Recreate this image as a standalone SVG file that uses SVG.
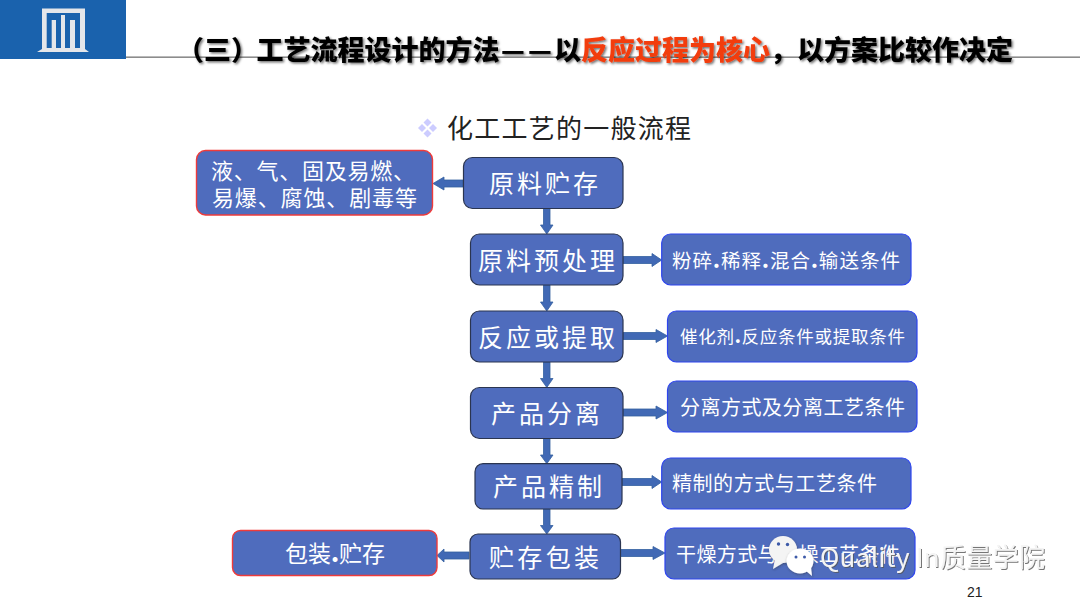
<svg xmlns="http://www.w3.org/2000/svg" width="1080" height="608" viewBox="0 0 1080 608">
<defs>
<filter id="ts" x="-5%" y="-20%" width="110%" height="150%"><feDropShadow dx="1.500" dy="1.500" stdDeviation="0.800" flood-color="#000" flood-opacity="0.550"/></filter>
<filter id="wm" x="-5%" y="-20%" width="110%" height="150%"><feDropShadow dx="1" dy="1" stdDeviation="0.500" flood-color="#555" flood-opacity="0.800"/></filter>
<filter id="bs" x="-20%" y="-20%" width="140%" height="140%"><feDropShadow dx="0.500" dy="1" stdDeviation="0.800" flood-color="#333" flood-opacity="0.500"/></filter>
</defs>
<style>
text{font-family:"Noto Sans CJK SC","Liberation Sans",sans-serif}
.box{fill:#4f6cbd}
.main{stroke:#2b3550;stroke-width:1.200}
.red{stroke:#ee3b3b;stroke-width:1.400}
.blue{stroke:#2e45ee;stroke-width:1.200}
.lab{fill:#fff;font-weight:400}
.dot{font-weight:900}
.arr{fill:#4169b5;stroke:#33609f;stroke-width:.8}
.title{font-size:27px;font-weight:900;fill:#000;filter:url(#ts)}
</style>
<rect width="1080" height="608" fill="#fff"/>
<g id="header">
<rect x="126" y="56.400" width="954" height="1.600" fill="#8c8c8c"/>
<rect width="126" height="59" fill="#1a62ad"/>
<path fill="#e4e6ea" d="M42 8.500H85V49L89 52H37L42 49ZM46.700 13V48H51.700V20H56V48H61V15H65V48H70V20H75V48H80V13Z"/>
</g>
<text id="title" class="title" y="60"><tspan x="177">（三）</tspan><tspan x="256.500">工艺流程设计的方法</tspan><tspan x="501" font-size="26">—</tspan><tspan x="528" font-size="26">—</tspan><tspan x="554">以</tspan><tspan x="581" fill="#f23c0f">反应过程为核心</tspan><tspan x="770">，</tspan><tspan x="797">以方案比较作决定</tspan></text>
<g id="subtitle">
<path fill="#ccccff" d="M427.500 118.500l4 4-4 4-4-4zM427.500 129.500l4 4-4 4-4-4zM422 124l4 4-4 4-4-4zM433 124l4 4-4 4-4-4z"/>
<text x="447" y="138" font-size="26" fill="#222" textLength="244" lengthAdjust="spacing">化工工艺的一般流程</text>
</g>
<g id="connectors">
<polygon class="arr" points="463,180 444,180 444,177 433,183.500 444,190 444,187 463,187"/>
<polygon class="arr" points="543.500,208.500 550,208.500 550,225 553,225 546.800,234 540.500,225 543.500,225"/>
<polygon class="arr" points="543.500,285 550,285 550,302 553,302 546.800,311 540.500,302 543.500,302"/>
<polygon class="arr" points="543.500,362 550,362 550,378.500 553,378.500 546.800,387.500 540.500,378.500 543.500,378.500"/>
<polygon class="arr" points="543.500,438.500 550,438.500 550,455 553,455 546.800,463.700 540.500,455 543.500,455"/>
<polygon class="arr" points="543.500,509 550,509 550,525.500 553,525.500 546.800,534 540.500,525.500 543.500,525.500"/>
<polygon class="arr" points="623,256.500 652,256.500 652,253.500 661.700,260 652,266.500 652,263.500 623,263.500"/>
<polygon class="arr" points="623,332.500 656,332.500 656,329.500 667.500,336 656,342.500 656,339.500 623,339.500"/>
<polygon class="arr" points="623,409 656,409 656,406 667.500,412.500 656,419 656,416 623,416"/>
<polygon class="arr" points="622,478.500 652,478.500 652,475.500 661.700,482 652,488.500 652,485.500 622,485.500"/>
<polygon class="arr" points="620.500,549.500 653,549.500 653,546.500 665,553 653,559.500 653,556.500 620.500,556.500"/>
<polygon class="arr" points="469,552 444,552 444,549 437,555.500 444,562 444,559 469,559"/>
</g>
<g id="n1"><rect class="box main" x="463.500" y="157.500" width="159.500" height="51" rx="9"/><text class="lab" x="489" y="193" font-size="25" textLength="109" lengthAdjust="spacing">原料贮存</text></g>
<g id="n2"><rect class="box main" x="470.500" y="234" width="152.500" height="51" rx="9"/><text class="lab" x="478" y="270" font-size="25" textLength="137" lengthAdjust="spacing">原料预处理</text></g>
<g id="n3"><rect class="box main" x="470.500" y="311" width="152.500" height="51" rx="9"/><text class="lab" x="478" y="347" font-size="25" textLength="137" lengthAdjust="spacing">反应或提取</text></g>
<g id="n4"><rect class="box main" x="470.500" y="387.500" width="152.500" height="51" rx="9"/><text class="lab" x="491" y="423" font-size="25" textLength="109" lengthAdjust="spacing">产品分离</text></g>
<g id="n5"><rect class="box main" x="475" y="463.700" width="147" height="45.300" rx="8"/><text class="lab" x="493" y="496" font-size="25" textLength="109" lengthAdjust="spacing">产品精制</text></g>
<g id="n6"><rect class="box main" x="470" y="534" width="150.500" height="45" rx="8"/><text class="lab" x="489" y="567" font-size="25" textLength="110" lengthAdjust="spacing">贮存包装</text></g>
<g id="l1"><rect class="box red" x="196.500" y="150.500" width="236" height="64.500" rx="9"/>
<text class="lab" x="211" y="179" font-size="22" textLength="204" lengthAdjust="spacing">液、气、固及易燃、</text>
<text class="lab" x="212" y="206" font-size="22" textLength="205" lengthAdjust="spacing">易爆、腐蚀、剧毒等</text></g>
<g id="l2"><rect class="box red" x="232.500" y="530.500" width="204.500" height="45" rx="8"/><text class="lab" x="285" y="562" font-size="23" textLength="100" lengthAdjust="spacing">包装<tspan class="dot">.</tspan>贮存</text></g>
<g id="r1"><rect class="box blue" x="661.700" y="234" width="249.300" height="51" rx="9"/><text class="lab" x="672" y="268" font-size="19.500" textLength="228" lengthAdjust="spacing">粉碎<tspan class="dot">.</tspan>稀释<tspan class="dot">.</tspan>混合<tspan class="dot">.</tspan>输送条件</text></g>
<g id="r2"><rect class="box blue" x="667.500" y="311" width="249.500" height="51" rx="9"/><text class="lab" x="680" y="343" font-size="17.500" textLength="225" lengthAdjust="spacing">催化剂<tspan class="dot">.</tspan>反应条件或提取条件</text></g>
<g id="r3"><rect class="box blue" x="667.500" y="381" width="249.500" height="51" rx="9"/><text class="lab" x="680" y="415" font-size="20" textLength="225" lengthAdjust="spacing">分离方式及分离工艺条件</text></g>
<g id="r4"><rect class="box blue" x="661.700" y="458" width="249.300" height="51" rx="9"/><text class="lab" x="672" y="491" font-size="20" textLength="205" lengthAdjust="spacing">精制的方式与工艺条件</text></g>
<g id="r5"><rect class="box blue" x="665" y="528" width="250" height="51" rx="9"/><text class="lab" x="676" y="562" font-size="20" textLength="224" lengthAdjust="spacing">干燥方式与干燥工艺条件</text></g>
<g id="watermark">
<g filter="url(#bs)"><ellipse cx="783" cy="549.500" rx="14" ry="13.500" fill="#f4f4f4"/><path d="M775 559l-2 10 10-6z" fill="#f4f4f4"/></g>
<g filter="url(#bs)"><ellipse cx="800" cy="561" rx="13.500" ry="12.500" fill="#fff"/><path d="M805 570l7 6-1-9z" fill="#fff"/></g>
<circle cx="778.500" cy="544" r="1.700" fill="#3d5aa8"/><circle cx="787.500" cy="544.500" r="1.700" fill="#3d5aa8"/>
<circle cx="796" cy="557" r="1.500" fill="#3d5aa8"/><circle cx="804.500" cy="557" r="1.500" fill="#3d5aa8"/>
<text x="820" y="567" font-size="26" fill="#f4f4f4" filter="url(#wm)" textLength="225" lengthAdjust="spacing">Quality In质量学院</text>
</g>
<text id="page" x="967" y="597" font-size="14" fill="#222" style="font-family:'Liberation Sans',sans-serif">21</text>
</svg>
